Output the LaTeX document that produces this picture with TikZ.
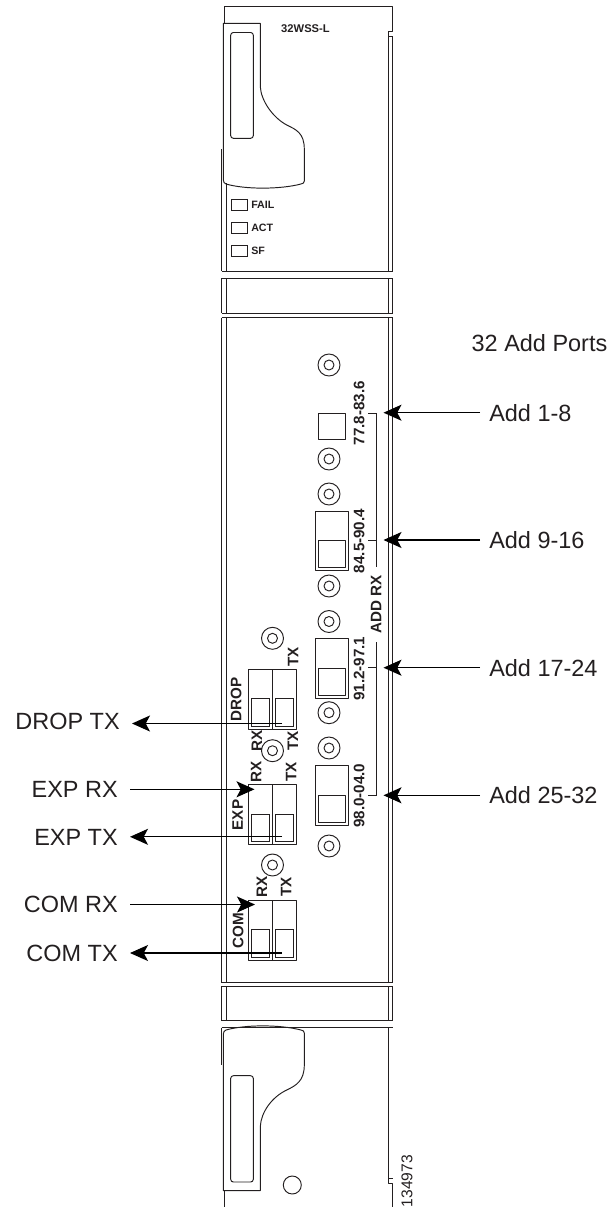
\documentclass[tikz,border=0pt]{standalone}
\usepackage{fontspec}
\setmainfont{Liberation Sans}
\usetikzlibrary{arrows.meta}
\definecolor{ink}{HTML}{231F20}
\tikzset{
  body/.style={draw=ink,line width=0.72pt,line join=round},
  thin part/.style={draw=ink,line width=0.6pt},
  big/.style={font=\fontsize{17.6pt}{20pt}\selectfont,text=ink,text height=12.6pt,text depth=0pt,inner ysep=0pt},
  rlabel/.style={big,anchor=west,inner xsep=6.75pt},
  llabel/.style={big,anchor=east,inner xsep=9pt},
  small/.style={font=\fontsize{11.4pt}{13pt}\selectfont\bfseries,text=ink,rotate=90,text height=8.2pt,text depth=0pt,inner sep=0pt},
  led/.style={font=\fontsize{8pt}{10pt}\selectfont\bfseries,text=ink,anchor=west,text height=5.8pt,text depth=0pt,inner sep=0pt},
  arrowline/.style={draw=black,line width=0.85pt,-{Stealth[length=13.5pt,width=12pt,inset=3.2pt]}},
}
\begin{document}
\begin{tikzpicture}[x=0.75pt,y=-0.75pt]
\useasboundingbox (0,0) rectangle (610,1207);
% outline top and bottom
\draw[body] (224,23) -- (224,6) -- (392.7,6) -- (392.7,31) -- (388,31) -- (388,36);
\draw[body] (392.7,36) -- (388,36);
\draw[body] (224,1191) -- (224,1207);
\draw[body] (392.7,1207) -- (392.7,1183) -- (388,1183) -- (388,1178) -- (392.7,1178);
% rails
\foreach \xa/\ya/\yb in {221.5/149/271,226/183/271,221.5/278.3/313.3,226/278.3/313.3,221.5/317.7/982.7,226/317.7/982.7,221.5/986/1020.7,226/986/1020.7,221.5/1027.7/1065}
  \draw[body] (\xa,\ya) -- (\xa,\yb);
\foreach \xa/\ya/\yb in {388/36/271,392.7/36/271,388/278.3/313.3,392.7/278.3/313.3,388/317.7/982.7,392.7/317.7/982.7,388/986/1020.7,392.7/986/1020.7,388/1027.7/1178}
  \draw[body] (\xa,\ya) -- (\xa,\yb);
% bands
\foreach \yy in {271,278.3,313.3,317.7,982.7,986,1020.7,1027.7}
  \draw[body] (221.5,\yy) -- (392.7,\yy);
% top handle
\draw[body] (223.3,180) -- (223.3,23.3) -- (260.3,23.3) -- (260.3,86.7)
  .. controls (261,100) and (272,117) .. (286.7,125)
  .. controls (296,129.5) and (304.3,133) .. (304.3,149) -- (304.3,181)
  .. controls (304.3,183) and (303,183.5) .. (301,184)
  .. controls (280,189.5) and (245,189.5) .. (226,184)
  .. controls (224.5,183.5) and (223.3,182) .. (223.3,180);
\draw[body,rounded corners=2pt] (230.7,32.5) rectangle (253.3,138.3);
% bottom handle
\draw[body] (223.3,1034) -- (223.3,1190.7) -- (260.3,1190.7) -- (260.3,1126.7)
  .. controls (261,1112) and (272,1097) .. (286.7,1090)
  .. controls (296,1085.5) and (304.3,1081) .. (304.3,1065) -- (304.3,1033)
  .. controls (304.3,1031) and (303,1030.5) .. (301,1030)
  .. controls (280,1024.5) and (245,1024.5) .. (226,1030)
  .. controls (224.5,1030.5) and (223.3,1032) .. (223.3,1034);
\draw[body,rounded corners=2pt] (230.7,1075.7) rectangle (253.3,1182);
\draw[body] (292.3,1185) circle[radius=9];
% LEDs
\foreach \yy/\name/\txt in {205/fail/FAIL,228/act/ACT,250.8/sf/SF}{
  \draw[thin part] (231.5,\yy-5.5) rectangle (247,\yy+5.5);
  \node[led] (\name) at (251,\yy) {\txt};
}
\node[font=\fontsize{8.4pt}{10pt}\selectfont\bfseries,text=ink,inner sep=0pt] (title) at (305.5,28.5) {32WSS-L};
% right column circles
\foreach \yy in {365,459,494,586,621.5,712.7,748,846}{
  \draw[body] (329,\yy) circle[radius=11];
  \draw[body] (329,\yy) circle[radius=5];
}
% left column circles
\foreach \yy in {638.3,750.7,865}{
  \draw[body] (272.5,\yy) circle[radius=11];
  \draw[body] (272.5,\yy) circle[radius=5];
}
% Add connectors
\draw[body] (318,413) rectangle (345,439.5);
\foreach \yy in {511,638.5,765.5}{
  \draw[body] (315,\yy) rectangle (348,\yy+59.5);
  \draw[body] (318,\yy+29.5) rectangle (345,\yy+56.5);
}
% left blocks
\foreach \yy in {669,784.5,900}{
  \draw[body] (248.5,\yy) rectangle (296.5,\yy+60);
  \draw[body] (272.5,\yy) -- (272.5,\yy+60);
  \draw[thin part] (251.5,\yy+29.5) rectangle (269.7,\yy+57);
  \draw[thin part] (275.3,\yy+29.5) rectangle (293.5,\yy+57);
}
% bracket
\draw[thin part] (368,413) -- (376,413) -- (376,567);
\draw[thin part] (368,540) -- (376,540);
\draw[thin part] (376,642) -- (376,795) -- (368,795);
\draw[thin part] (368,667.7) -- (376,667.7);
% small rotated labels
\node[small] (r1) at (359,413.3) {77.8-83.6};
\node[small] (r2) at (359,541) {84.5-90.4};
\node[small] (r3) at (359,668.7) {91.2-97.1};
\node[small] (r4) at (359,795.7) {98.0-04.0};
\node[small] (addrx) at (376,604) {ADD RX};
\node[small] (drop) at (236,699.3) {DROP};
\node[small] (exp) at (237.3,815) {EXP};
\node[small] (com) at (238,931) {COM};
\node[small] (tx0) at (293,656.7) {TX};
\node[small] (rx1) at (256.7,741) {RX};
\node[small] (tx1) at (292.7,741) {TX};
\node[small] (rx2) at (256,771.7) {RX};
\node[small] (tx2) at (291,771.7) {TX};
\node[small] (rx3) at (261.7,886.7) {RX};
\node[small] (tx3) at (286,886.7) {TX};
\node[font=\fontsize{11.7pt}{13pt}\selectfont,text=ink,rotate=90,inner sep=0pt,text height=8.4pt,text depth=0pt] (fig) at (406.7,1181) {134973};
% labels right
\node[big,inner sep=0pt,text depth=0pt] (ports) at (539.5,343) {32 Add Ports};
\node[rlabel] (a1) at (480,412.7) {Add 1-8};
\node[rlabel] (a2) at (480,540) {Add 9-16};
\node[rlabel] (a3) at (480,667.7) {Add 17-24};
\node[rlabel] (a4) at (480,795.3) {Add 25-32};
\coordinate (ta1) at (383.5,412.7);
\coordinate (ta2) at (383.5,540);
\coordinate (ta3) at (383.5,667.7);
\coordinate (ta4) at (383.5,795.3);
\foreach \k in {1,2,3,4} \draw[arrowline] (a\k.west) -- (ta\k);
% labels left
\node[llabel] (ldrop) at (132,721) {DROP TX};
\node[llabel] (lexr) at (130,789.3) {EXP RX};
\node[llabel] (lext) at (130,836.8) {EXP TX};
\node[llabel] (lcor) at (130,904.5) {COM RX};
\node[llabel] (lcot) at (130,953) {COM TX};
\coordinate (sdrop) at (282,723.5);
\coordinate (texr) at (254.5,789.3);
\coordinate (sext) at (282,836.8);
\coordinate (tcor) at (255,904.5);
\coordinate (scot) at (282,953);
\draw[arrowline] (sdrop) -- (sdrop -| ldrop.east);
\draw[arrowline] (lexr.east) -- (texr);
\draw[arrowline] (sext) -- (lext.east);
\draw[arrowline] (lcor.east) -- (tcor);
\draw[arrowline] (scot) -- (lcot.east);
\end{tikzpicture}
\end{document}
